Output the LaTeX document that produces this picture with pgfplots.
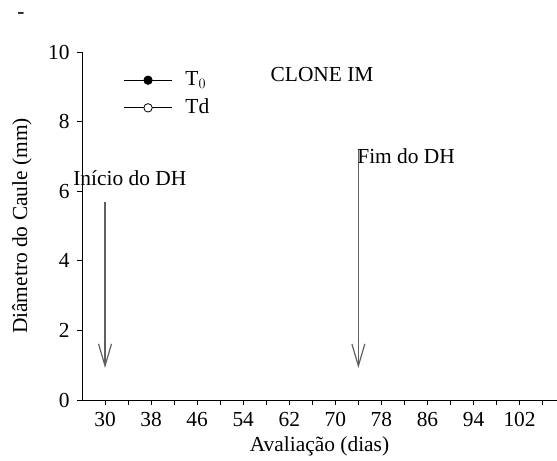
\documentclass[border=0pt]{standalone}
\usepackage{fontspec}
\setmainfont{Liberation Serif}
\usepackage{pgfplots}
\pgfplotsset{compat=1.18}
\usetikzlibrary{arrows.meta}
\newcommand{\bigf}{\fontsize{21.5}{25}\selectfont}
\begin{document}
\bigf
\begin{tikzpicture}[x=1bp,y=1bp,font=\bigf]
\useasboundingbox (-82,-61) rectangle (475,400);
\begin{axis}[
  at={(0,0)}, anchor=south west,
  scale only axis, width=475bp, height=348bp,
  xmin=26, xmax=108.5, ymin=0, ymax=10,
  axis lines*=left,
  clip=false,
  xtick={30,38,...,102},
  minor xtick={34,42,...,106},
  ytick={0,2,...,10},
  tick align=outside,
  major tick length=5bp, minor tick length=5bp,
  tick style={black, line width=0.8pt},
  axis line style={black, line width=0.8pt},
  /pgf/number format/assume math mode=true,
  ticklabel style={font=\bigf},
  label style={font=\bigf},
  xlabel={Avaliação (dias)},
  ylabel={Diâmetro do Caule (mm)},
  xlabel style={yshift=5bp},
  ylabel style={yshift=2bp},
  legend style={at={(axis cs:33.2,9.5)}, anchor=north west, draw=none, fill=none,
    font=\bigf, row sep=6bp, column sep=11bp, inner sep=0pt},
  legend cell align=left,
  legend image code/.code={\draw[mark repeat=2,mark phase=2] plot coordinates {(0bp,0bp)(24bp,0bp)(48bp,0bp)};},
]
\addlegendimage{black, line width=0.8pt, mark=*, mark size=4.2bp, mark options={fill=black}}
\addlegendentry{T$_0$}
\addlegendimage{black, line width=0.8pt, mark=*, mark size=4.2bp, mark options={fill=white}}
\addlegendentry{Td}
\addplot[gray!75!black, line width=1.2pt, -{Straight Barb[length=22bp,width=13bp,line width=1.2pt]}] coordinates {(30,5.7) (30,0.92)};
\addplot[gray!75!black, line width=1.2pt, -{Straight Barb[length=22bp,width=13bp,line width=1.2pt]}] coordinates {(74,7.22) (74,0.92)};
\node at (axis cs:34.3,6.38) {Início do DH};
\node at (axis cs:82.3,7.0) {Fim do DH};
\node at (axis cs:67.7,9.34) {CLONE IM};
\end{axis}
\node at (-61,384) {-};
\end{tikzpicture}
\end{document}
